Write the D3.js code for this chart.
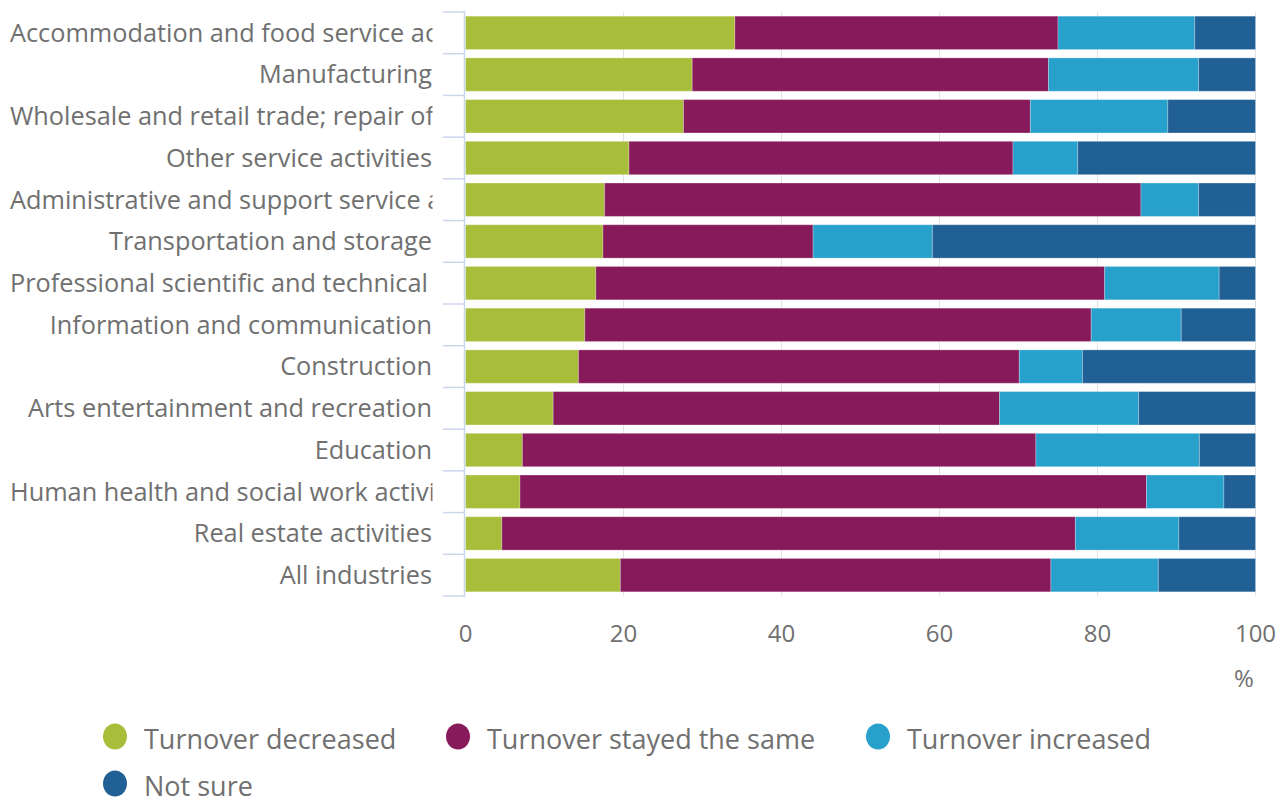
<!DOCTYPE html>
<html><head><meta charset="utf-8">
<script src="https://cdn.jsdelivr.net/npm/d3@7"></script>
<style>
html,body{margin:0;padding:0;background:#fff;}
svg text{font-family:"Open Sans",sans-serif;fill:#707070;}
</style></head>
<body>
<svg id="chart" width="1284" height="805"></svg>
<script>
const categories = [
  "Accommodation and food service activities",
  "Manufacturing",
  "Wholesale and retail trade; repair of motor vehicles and motorcycles",
  "Other service activities",
  "Administrative and support service activities",
  "Transportation and storage",
  "Professional scientific and technical activities",
  "Information and communication",
  "Construction",
  "Arts entertainment and recreation",
  "Education",
  "Human health and social work activities",
  "Real estate activities",
  "All industries"
];
const seriesNames = ["Turnover decreased","Turnover stayed the same","Turnover increased","Not sure"];
const decreased  = [34.1, 28.7, 27.6, 20.7, 17.6, 17.4, 16.5, 15.1, 14.3, 11.1, 7.2, 6.9, 4.6, 19.6];
const stayedSame = [40.9, 45.1, 43.9, 48.6, 67.9, 26.6, 64.4, 64.1, 55.8, 56.5, 65.0, 79.3, 72.6, 54.5];
const increased  = [17.3, 19.0, 17.4, 8.2, 7.3, 15.1, 14.5, 11.4, 8.0, 17.6, 20.7, 9.8, 13.1, 13.6];
const notSure    = [7.7, 7.2, 11.1, 22.5, 7.2, 40.9, 4.6, 9.4, 21.9, 14.8, 7.1, 4.0, 9.7, 12.3];
const xTicks = [0,20,40,60,80,100];
const colors = ["#a8bd3a","#871a5b","#27a0cc","#206095"];

const rows = categories.map((c,i)=>({cat:c, v:[decreased[i],stayedSame[i],increased[i],notSure[i]]}));

const svg = d3.select("#chart");
const x = d3.scaleLinear().domain([0,100]).range([465.5,1255.5]);
const y = d3.scaleBand().domain(categories).range([12,596]).paddingInner(0.2).paddingOuter(0.1);

// grid
svg.append("g").selectAll("line").data(xTicks.filter(d=>d>0)).join("line")
  .attr("x1",d=>x(d)).attr("x2",d=>x(d)).attr("y1",12).attr("y2",596)
  .attr("stroke","#e2e2e2").attr("stroke-width",1);

// bars
const stack = rows.map(r=>{let acc=0; return r.v.map((v,k)=>{const s={cat:r.cat,k,x0:acc,x1:acc+v}; acc+=v; return s;});}).flat();
svg.append("g").selectAll("rect").data(stack).join("rect")
  .attr("x",d=>x(d.x0)).attr("width",d=>x(d.x1)-x(d.x0))
  .attr("y",d=>y(d.cat)).attr("height",y.bandwidth())
  .attr("fill",d=>colors[d.k])
  .attr("stroke","rgba(255,255,255,0.25)").attr("stroke-width",1);

// y axis line and ticks at band boundaries
const bounds = d3.range(categories.length+1).map(i=>12+i*(584/categories.length));
svg.append("line").attr("x1",464.5).attr("x2",464.5).attr("y1",11).attr("y2",597)
  .attr("stroke","#ccd6eb").attr("stroke-width",1.5);
svg.append("g").selectAll("line").data(bounds).join("line")
  .attr("x1",443).attr("x2",464.5).attr("y1",d=>d).attr("y2",d=>d)
  .attr("stroke","#ccd6eb").attr("stroke-width",1.5);

// y labels
const defs = svg.append("defs");
defs.append("clipPath").attr("id","lblclip").append("rect").attr("x",0).attr("y",0).attr("width",432.5).attr("height",805);
const lg = svg.append("g").attr("clip-path","url(#lblclip)");
categories.forEach(c=>{
  const t = lg.append("text").attr("y",y(c)+y.bandwidth()/2).attr("dy","0.35em")
    .style("font-size","25.3px").text(c);
  const w = t.node().getComputedTextLength();
  if (w > 422) { t.attr("x",10).attr("text-anchor","start"); }
  else { t.attr("x",432).attr("text-anchor","end"); }
});

// x tick labels
svg.append("g").selectAll("text").data(xTicks).join("text")
  .attr("x",d=>x(d)).attr("y",642).attr("text-anchor","middle")
  .style("font-size","24px").text(d=>d);
svg.append("text").attr("x",1244).attr("y",687).attr("text-anchor","middle").style("font-size","24px").text("%");

// legend
const legendPos = [[115,749],[458,749],[878,749],[115,796]];
const lgd = svg.append("g").selectAll("g").data(seriesNames).join("g")
  .attr("transform",(d,i)=>`translate(${legendPos[i][0]},${legendPos[i][1]})`);
lgd.append("ellipse").attr("cy",-12.5).attr("rx",12).attr("ry",13).attr("fill",(d,i)=>colors[i]);
lgd.append("text").attr("x",29).style("font-size","27px").text(d=>d);
</script>
</body></html>
